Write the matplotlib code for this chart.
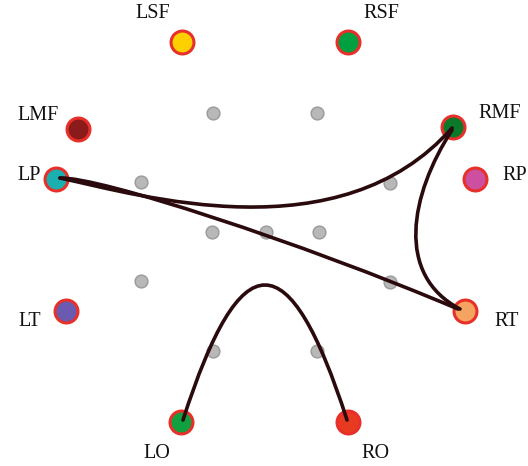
import matplotlib
matplotlib.use("Agg")
import matplotlib.pyplot as plt
from matplotlib.path import Path
from matplotlib.patches import PathPatch

# electrode layout (pixel space, y down)
names = ["LSF", "RSF", "LMF", "RMF", "LP", "RP", "LT", "RT", "LO", "RO"]
node_x = [182, 348, 78, 453, 56, 475, 66, 465, 181, 348]
node_y = [42, 42, 129, 127, 179, 179, 311, 311, 422, 422]
node_colors = ["#FFD000", "#00A040", "#8B1A1A", "#0A7A2A", "#1AB0B0",
               "#CC4FA0", "#6A5AB0", "#F4A460", "#10A040", "#E83A20"]
label_x = [153, 381, 38, 500, 29, 515, 30, 507, 157, 375]
label_y = [14, 14, 115, 114, 176, 176, 322, 322, 454, 454]

# inner grey reference points
grey_x = [213, 317, 141, 390, 212, 266, 319, 141, 390, 213, 317]
grey_y = [113, 113, 182, 183, 232, 232, 232, 281, 282, 351, 351]

# connections (from, to) and their bezier control points
links = [("LP", "RMF"), ("LP", "RT"), ("RMF", "RT"), ("LO", "RO")]
ends = {
    ("LP", "RMF"): [(60, 178), (140, 195), (340, 255), (452, 128)],
    ("LP", "RT"): [(60, 178), (100, 177), (300, 242), (458, 309)],
    ("RMF", "RT"): [(452, 130), (410, 195), (395, 275), (460, 309)],
    ("LO", "RO"): [(183, 420), (241, 240), (289, 240), (347, 420)],
}

fig = plt.figure(figsize=(5.28, 4.66), dpi=100)
ax = fig.add_axes([0, 0, 1, 1])
ax.set_xlim(0, 528)
ax.set_ylim(466, 0)
ax.axis("off")

ax.scatter(grey_x, grey_y, s=85, c="#B8B8B8", edgecolors="#9A9A9A",
           linewidths=1, zorder=2)

for x, y, c in zip(node_x, node_y, node_colors):
    ax.plot(x, y, "o", ms=16.5, mfc=c, mec="#E8302A", mew=2.2, zorder=3)

for lx, ly, n in zip(label_x, label_y, names):
    ax.text(lx, ly, n, ha="center", va="center", fontsize=14.5,
            family=["Liberation Serif", "DejaVu Serif"], color="#111111")

codes = [Path.MOVETO, Path.CURVE4, Path.CURVE4, Path.CURVE4]
for link in links:
    p = Path(ends[link], codes)
    ax.add_patch(PathPatch(p, fc="none", ec="#2A0A0C", lw=2.6,
                           capstyle="round", zorder=4))

fig.savefig("out.png", dpi=100)
